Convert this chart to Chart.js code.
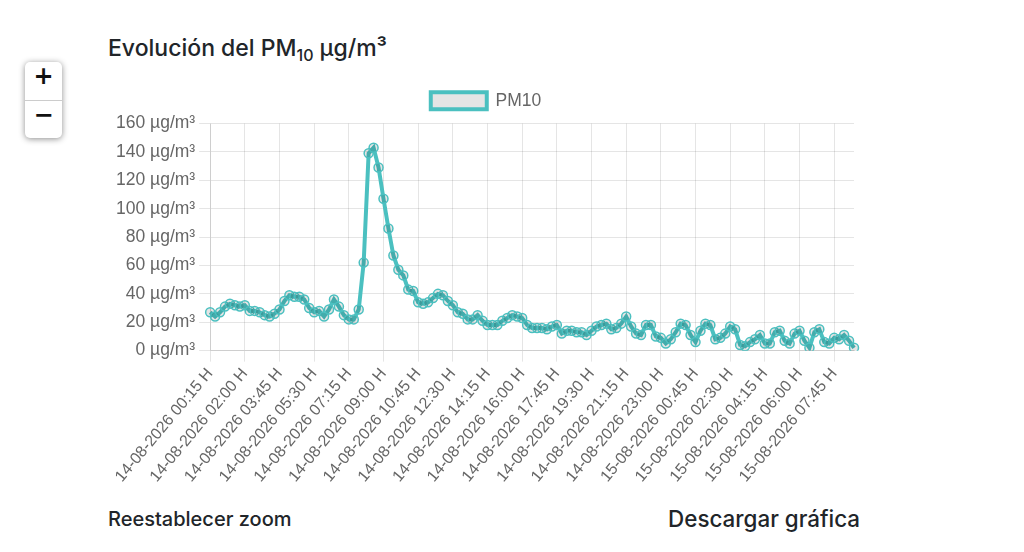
<!DOCTYPE html>
<html lang="es">
<head>
<meta charset="utf-8">
<title>Evolución del PM10</title>
<script src="https://cdn.jsdelivr.net/npm/chart.js@4"></script>
<style>
  html, body { margin: 0; padding: 0; background: #fff; }
  body { width: 1024px; height: 552px; position: relative; overflow: hidden; font-family: Inter, "Noto Sans", sans-serif; color: #212529; }
  .titulo { position: absolute; left: 108px; top: 34px; margin: 0; font-size: 23px; font-weight: 500; }
  .titulo sub { font-size: 16px; vertical-align: -5px; line-height: 0; }
  .zoom-ctrl { position: absolute; left: 25px; top: 62px; width: 37px; height: 76px; background: #fff; border-radius: 5px; box-shadow: 0 1px 6px rgba(0,0,0,0.45); }
  .zoom-ctrl div { height: 38px; line-height: 38px; text-align: center; font: bold 24px "DejaVu Sans", sans-serif; color: #111; }
  .zoom-ctrl div + div { border-top: 1px solid #ccc; height: 37px; }
  .wrap { position: absolute; left: 108px; top: 79px; width: 752px; height: 410px; }
  .btn { position: absolute; top: 507px; font-size: 20px; font-weight: 500; }
</style>
</head>
<body>
<h3 class="titulo">Evolución del PM<sub>10</sub> µg/m³</h3>
<div class="zoom-ctrl"><div>+</div><div>−</div></div>
<div class="wrap"><canvas id="grafica"></canvas></div>
<div class="btn" style="left:108px">Reestablecer zoom</div>
<div class="btn" style="right:164px; font-size:22.4px; top:505px">Descargar gráfica</div>
<script>
// lecturas cada 15 minutos desde 14-08-2026 00:15
const inicio = { dia: 14, mes: 8, anio: 2026, hora: 0, minuto: 15 };
const pm10 = [
  27, 24, 27, 31, 33, 32, 31, 32, 28, 28, 27, 25, 24, 26, 29, 35, 39, 38, 38, 36,
  30, 27, 28, 24, 29, 36, 31, 25, 22, 22, 29, 62, 139, 143, 129, 107, 86, 67, 57, 53,
  43, 42, 34, 33, 34, 37, 40, 39, 35, 32, 27, 26, 22, 22, 25, 21, 18, 18, 18, 21,
  23, 25, 24, 23, 18, 16, 16, 16, 15, 17, 18, 12, 14, 14, 13, 13, 11, 14, 17, 18,
  19, 15, 16, 19, 24, 17, 12, 11, 18, 18, 10, 9, 5, 8, 13, 19, 18, 11, 6, 14,
  19, 18, 8, 9, 12, 17, 15, 4, 3, 6, 8, 11, 5, 5, 13, 14, 7, 5, 12, 14,
  7, 2, 13, 15, 6, 5, 9, 8, 11, 7, 2
];
const yTicks = [0, 20, 40, 60, 80, 100, 120, 140, 160];

const dos = n => String(n).padStart(2, '0');
const etiquetas = pm10.map((v, i) => {
  const d = new Date(inicio.anio, inicio.mes - 1, inicio.dia, inicio.hora, inicio.minuto + i * 15);
  return dos(d.getDate()) + '-' + dos(d.getMonth() + 1) + '-' + d.getFullYear() + ' ' +
    dos(d.getHours()) + ':' + dos(d.getMinutes()) + ' H';
});

Chart.defaults.font.size = 17.5;
Chart.defaults.color = '#666';

// un poco mas de aire entre la leyenda y la grafica
const margenLeyenda = {
  id: 'margenLeyenda',
  beforeInit(chart) {
    const fitOriginal = chart.legend.fit;
    chart.legend.fit = function () {
      fitOriginal.bind(chart.legend)();
      this.height += 4;
    };
  }
};

const data = {
  labels: etiquetas,
  datasets: [{
    label: 'PM10',
    data: pm10,
    borderColor: 'rgb(75, 192, 192)',
    backgroundColor: 'rgba(0, 0, 0, 0.1)',
    borderWidth: 4,
    pointRadius: 4.5,
    pointBorderWidth: 1.5,
    tension: 0
  }]
};

const config = {
  type: 'line',
  data: data,
  options: {
    responsive: true,
    maintainAspectRatio: false,
    animation: false,
    layout: { padding: { left: 4 } },
    plugins: {
      legend: {
        labels: { boxWidth: 56, boxHeight: 17, padding: 13 }
      }
    },
    scales: {
      x: {
        ticks: { maxTicksLimit: 20, maxRotation: 50, minRotation: 50, font: { size: 16 } },
        grid: { tickLength: 11 }
      },
      y: {
        min: yTicks[0],
        max: yTicks[yTicks.length - 1],
        ticks: { stepSize: 20, padding: 4, callback: v => v + ' µg/m³' },
        grid: { tickLength: 11 }
      }
    }
  },
  plugins: [margenLeyenda]
};

new Chart(document.getElementById('grafica'), config);
</script>
</body>
</html>
